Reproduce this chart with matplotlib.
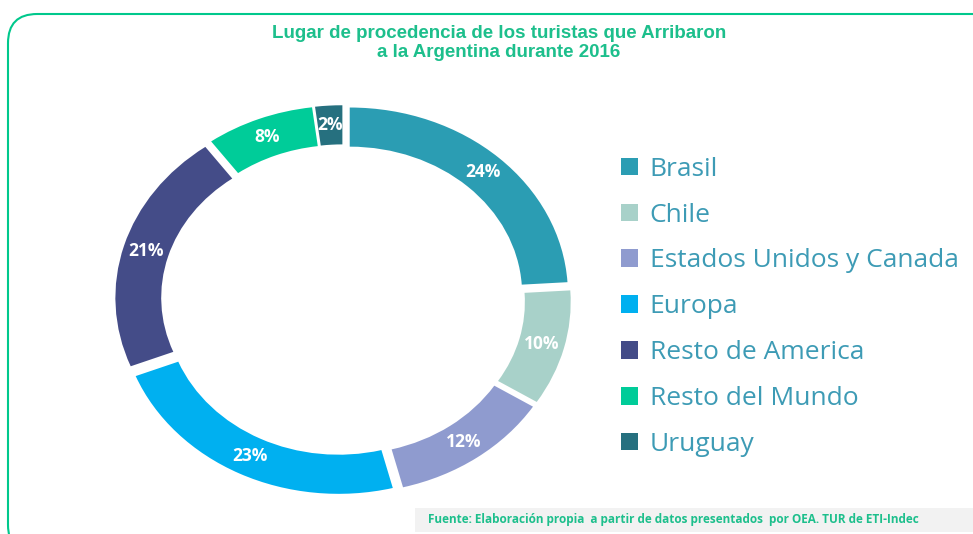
import numpy as np
import matplotlib.pyplot as plt
from matplotlib.patches import Patch, FancyBboxPatch, Rectangle

# data
labels = ['Brasil', 'Chile', 'Estados Unidos y Canada', 'Europa',
          'Resto de America', 'Resto del Mundo', 'Uruguay']
values = [24, 10, 12, 23, 21, 8, 2]
colors = ['#2b9db3', '#a8d1c9', '#8f9bcf', '#00b0f0', '#444c88', '#00cc99', '#26707f']

W, H = 973, 534
fig = plt.figure(figsize=(W / 100, H / 100), dpi=100)
fig.patch.set_facecolor('white')

# rounded green frame
frame = FancyBboxPatch((8 / W, -20 / H), 1.1, (H - 14 + 20) / H,
                       boxstyle='round,pad=0,rounding_size=0.03',
                       transform=fig.transFigure, fill=False,
                       edgecolor='#00c88c', linewidth=1.5, mutation_aspect=W / H)
fig.patches.append(frame)

# donut (slightly wider than tall, like the original)
cx, cy = 343, 300
expl = 0.045
ax = fig.add_axes([(cx - 240) / W, (H - cy - 205) / H, 480 / W, 410 / H])
wedges, _ = ax.pie(values, colors=colors, startangle=90, counterclock=False,
                   radius=1.0, explode=[expl] * len(values),
                   wedgeprops=dict(width=0.21, edgecolor='none'))
ax.set_xlim(-1.1, 1.1)
ax.set_ylim(-1.1, 1.1)
ax.set_aspect('auto')
ax.axis('off')

# percentage labels in the ring
for w, v in zip(wedges, values):
    ang = np.deg2rad((w.theta1 + w.theta2) / 2)
    r = 0.895 + expl
    ax.text(r * np.cos(ang), r * np.sin(ang), f'{v}%', ha='center', va='center',
            color='white', fontsize=12.5, fontweight='bold', family='Open Sans')

# legend
handles = [Patch(facecolor=c, edgecolor='none') for c in colors]
leg = fig.legend(handles, labels, loc='upper left', bbox_to_anchor=(597 / W, 1 - 133 / H),
                 frameon=False, handlelength=0.65, handleheight=0.65,
                 handletextpad=0.45, labelspacing=0.79, prop={'family': 'Open Sans', 'size': 19})
for t in leg.get_texts():
    t.set_color('#3d9bb5')

# title
fig.text(499 / W, 1 - 43 / H, 'Lugar de procedencia de los turistas que Arribaron\na la Argentina durante 2016',
         ha='center', va='center', color='#1dbf8c', fontsize=13.5, fontweight='bold',
         family='Liberation Sans', linespacing=1.15)

# source box
fig.patches.append(Rectangle((415 / W, 2 / H), 1, 24 / H, transform=fig.transFigure,
                             facecolor='#f2f2f2', edgecolor='none'))
fig.text(428 / W, 14 / H, 'Fuente: Elaboración propia  a partir de datos presentados  por OEA. TUR de ETI-Indec',
         ha='left', va='center', color='#1dbf8c', fontsize=8.5, fontweight='bold', family='Open Sans')

fig.savefig('out.png', dpi=100)
